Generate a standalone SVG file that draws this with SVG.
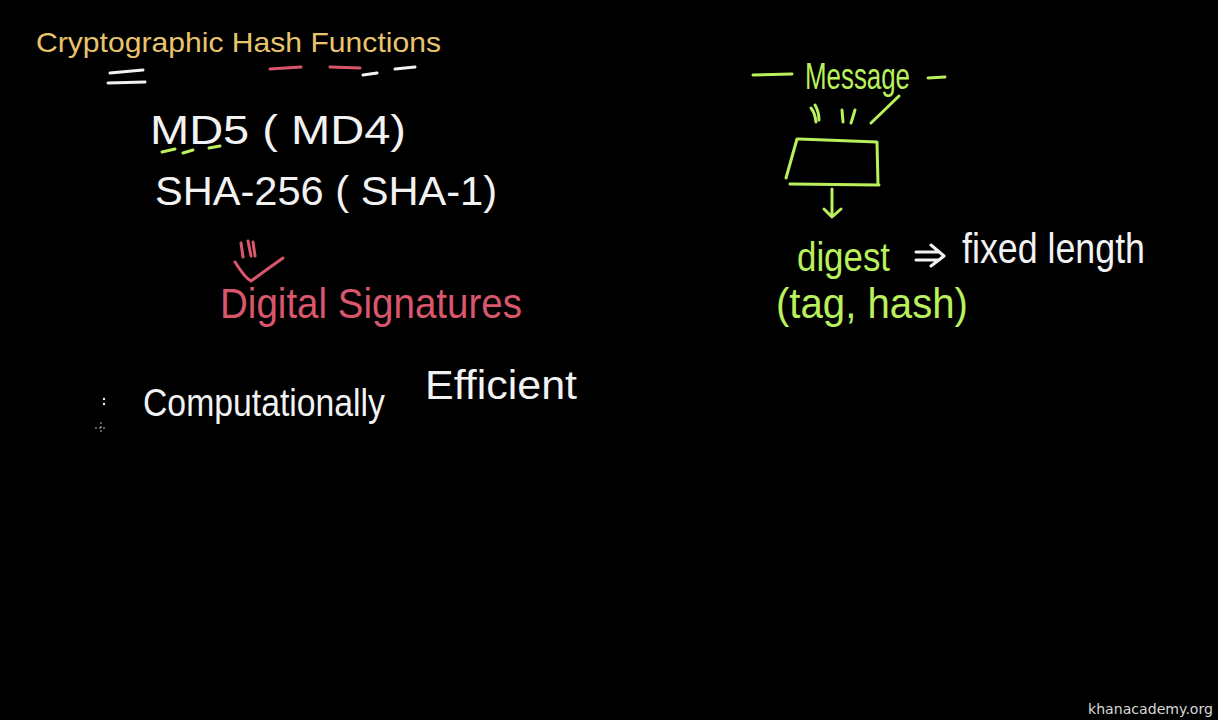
<svg xmlns="http://www.w3.org/2000/svg" width="1218" height="720" viewBox="0 0 1218 720">
<style>
.hw{font-family:"Liberation Sans","DejaVu Sans",sans-serif;font-weight:normal}
.w{fill:#f2f2f2}
.p{fill:#d9566c}
.g{fill:#b9f05c}
.sw{stroke:#f2f2f2;stroke-width:3;fill:none;stroke-linecap:round;stroke-linejoin:round}
.sp{stroke:#d9566c;stroke-width:3;fill:none;stroke-linecap:round;stroke-linejoin:round}
.sg{stroke:#b9f05c;stroke-width:3;fill:none;stroke-linecap:round;stroke-linejoin:round}
</style>
<rect width="1218" height="720" fill="#000"/>
<g id="title">
<text x="36" y="52" font-family="Liberation Sans, Arial, sans-serif" font-size="28" fill="#e9c46e" textLength="405" lengthAdjust="spacingAndGlyphs">Cryptographic Hash Functions</text>
<path class="sw" d="M110 73 L143 70 M108 83 L145 82"/>
<path class="sp" d="M270 69 L301 67 M330 67 L360 68"/>
<path class="sw" d="M363 75 L377 73 M395 69 L415 67"/>
</g>
<g id="md5">
<text class="hw w" x="150" y="144" font-size="40" textLength="256" lengthAdjust="spacingAndGlyphs">MD5 ( MD4)</text>
<path class="sg" d="M162 152 L175 149 M183 153 L193 150 M209 148 L220 146"/>
</g>
<g id="sha">
<text class="hw w" x="155" y="205" font-size="40" textLength="342" lengthAdjust="spacingAndGlyphs">SHA-256 ( SHA-1)</text>
</g>
<g id="digital-signatures">
<path class="sp" d="M241 243 L243 257 M248 241 L251 256 M253 242 L255 256"/>
<path class="sp" d="M235 262 Q245 278 251 281 Q266 270 283 258"/>
<text class="hw p" x="220" y="318" font-size="42" textLength="302" lengthAdjust="spacingAndGlyphs">Digital Signatures</text>
</g>
<g id="efficient">
<circle cx="104" cy="399" r="1.2" fill="#f2f2f2"/>
<circle cx="104" cy="404" r="1.2" fill="#f2f2f2"/>
<path d="M95 428 H107 M101 422 V434" stroke="#bbb" stroke-width="1" stroke-dasharray="2 2"/>
<text class="hw w" x="143" y="416" font-size="38" textLength="242" lengthAdjust="spacingAndGlyphs">Computationally</text>
<text class="hw w" x="425" y="399" font-size="40" textLength="152" lengthAdjust="spacingAndGlyphs">Efficient</text>
</g>
<g id="message">
<path class="sg" d="M753 75 L792 74 M928 78 L945 77"/>
<text class="hw g" x="805" y="89" font-size="36" textLength="105" lengthAdjust="spacingAndGlyphs">Message</text>
<path class="sg" d="M811 108 Q815 113 816 122 M815 105 Q819 112 819 120 M842 110 L843 122 M855 110 L851 123 M899 96 L871 123"/>
</g>
<g id="hash-box">
<path class="sg" d="M799 139 L877 142 L878 185 M797 139 L786 178 M790 184 L879 185"/>
</g>
<g id="arrow">
<path class="sg" d="M832 189 L832 216 M824 209 L832 217 L841 209"/>
</g>
<g id="digest">
<text class="hw g" x="797" y="271" font-size="40" textLength="93" lengthAdjust="spacingAndGlyphs">digest</text>
<path class="sw" d="M916 252 L938 252 M916 260 L938 260 M931 245 L944 256 L931 266" stroke-width="2.5"/>
<text class="hw w" x="962" y="263" font-size="42" textLength="183" lengthAdjust="spacingAndGlyphs">fixed length</text>
<text class="hw g" x="776" y="318" font-size="42" textLength="192" lengthAdjust="spacingAndGlyphs">(tag, hash)</text>
</g>
<g id="watermark">
<text x="1088" y="714" font-family="DejaVu Sans, sans-serif" font-size="14" fill="#d8d8d8" textLength="125" lengthAdjust="spacingAndGlyphs">khanacademy.org</text>
</g>
</svg>
